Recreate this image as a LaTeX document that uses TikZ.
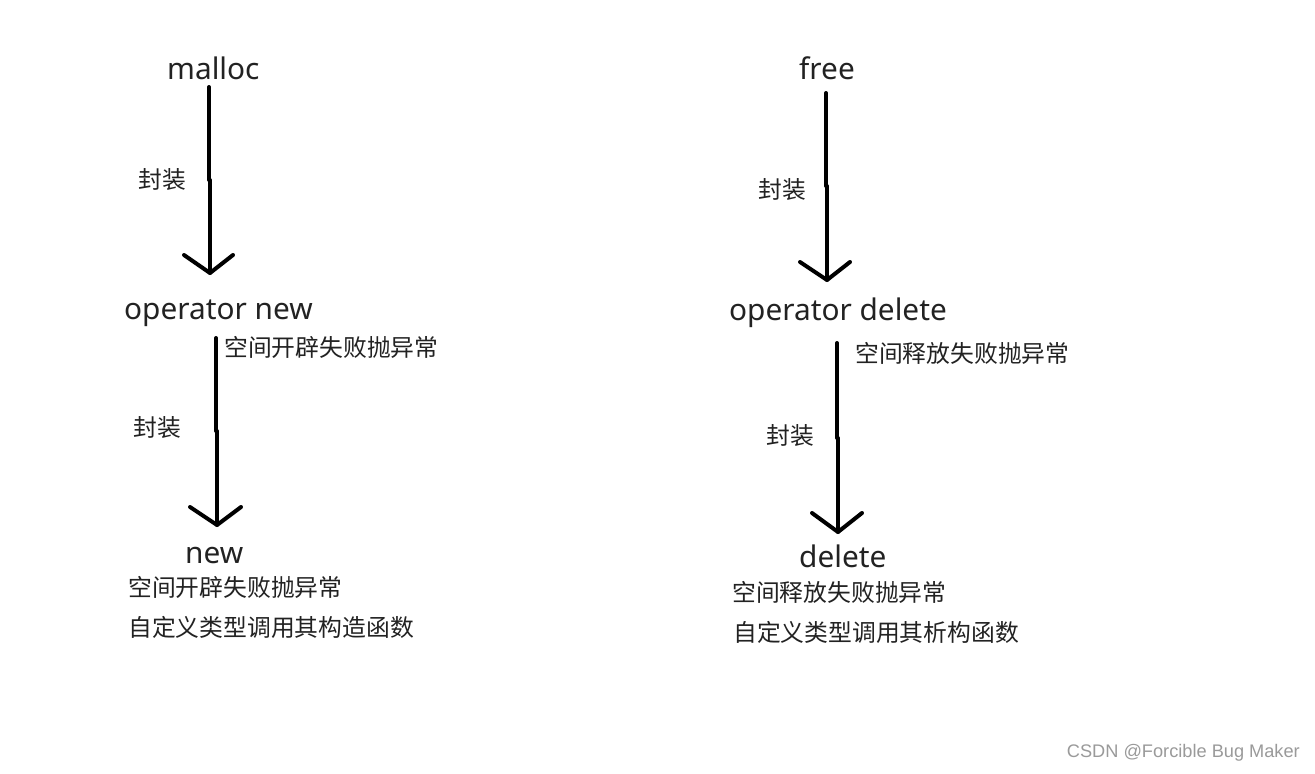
\documentclass[tikz,border=0pt]{standalone}
\usepackage{fontspec}
\setmainfont{Noto Sans}
\newfontfamily\cjk{Noto Sans CJK SC}
\newfontfamily\wmfont{Liberation Sans}
\definecolor{txt}{HTML}{222222}
\definecolor{wm}{HTML}{9A9A9A}
\begin{document}
\begin{tikzpicture}[x=1pt,y=-1pt,
  big/.style={anchor=west,inner sep=0pt,text=txt,font=\fontsize{29.8}{32}\selectfont},
  small/.style={anchor=west,inner sep=0pt,text=txt,font=\cjk\fontsize{23.8}{26}\selectfont},
  shaft/.style={line width=4pt,line cap=round,line join=round},
]
\useasboundingbox[fill=white] (0,0) rectangle (1315,774);

% Texts
\node[big] (malloc) at (167,68) {malloc};
\node[big] (opnew) at (124,313) {operator new};
\node[big] (new) at (185,556) {new};
\node[big] (free) at (799,68) {free};
\node[big] (opdel) at (729,313) {operator delete};
\node[big] (del) at (799,556) {delete};

\node[small] (fz1) at (138,180) {封装};
\node[small] (fz2) at (133,428) {封装};
\node[small] (fz3) at (758,190) {封装};
\node[small] (fz4) at (766,436) {封装};
\node[small] (e1) at (224,347) {空间开辟失败抛异常};
\node[small] (e2) at (128,587) {空间开辟失败抛异常};
\node[small] (c1) at (128,627) {自定义类型调用其构造函数};
\node[small] (e3) at (855,353) {空间释放失败抛异常};
\node[small] (e4) at (732,592) {空间释放失败抛异常};
\node[small] (c2) at (733,632) {自定义类型调用其析构函数};

\node[anchor=east,inner sep=0pt,text=wm,font=\wmfont\fontsize{18.2}{20}\selectfont] (wmk) at (1300,753) {CSDN @Forcible Bug Maker};

% Arrow 1 (malloc -> operator new)
\coordinate (a1s) at (209,87);
\coordinate (a1m) at (209,180);
\coordinate (a1n) at (210,180);
\coordinate (a1t) at (210,273);
\coordinate (a1l) at (184,255);
\coordinate (a1r) at (233,255);
\draw[shaft] (a1s) -- (a1m);
\draw[shaft] (a1n) -- (a1t);
\draw[shaft] (a1l) -- (a1t) -- (a1r);

% Arrow 2 (operator new -> new)
\coordinate (a2s) at (216,338);
\coordinate (a2m) at (216,431);
\coordinate (a2n) at (217,431);
\coordinate (a2t) at (217,525);
\coordinate (a2l) at (190,507);
\coordinate (a2r) at (241,507);
\draw[shaft] (a2s) -- (a2m);
\draw[shaft] (a2n) -- (a2t);
\draw[shaft] (a2l) -- (a2t) -- (a2r);

% Arrow 3 (free -> operator delete)
\coordinate (a3s) at (826,93);
\coordinate (a3m) at (826,186);
\coordinate (a3n) at (827,186);
\coordinate (a3t) at (827,280);
\coordinate (a3l) at (800,262);
\coordinate (a3r) at (850,262);
\draw[shaft] (a3s) -- (a3m);
\draw[shaft] (a3n) -- (a3t);
\draw[shaft] (a3l) -- (a3t) -- (a3r);

% Arrow 4 (operator delete -> delete)
\coordinate (a4s) at (837,343);
\coordinate (a4m) at (837,438);
\coordinate (a4n) at (838,438);
\coordinate (a4t) at (838,532);
\coordinate (a4l) at (812,513);
\coordinate (a4r) at (862,513);
\draw[shaft] (a4s) -- (a4m);
\draw[shaft] (a4n) -- (a4t);
\draw[shaft] (a4l) -- (a4t) -- (a4r);
\end{tikzpicture}
\end{document}
